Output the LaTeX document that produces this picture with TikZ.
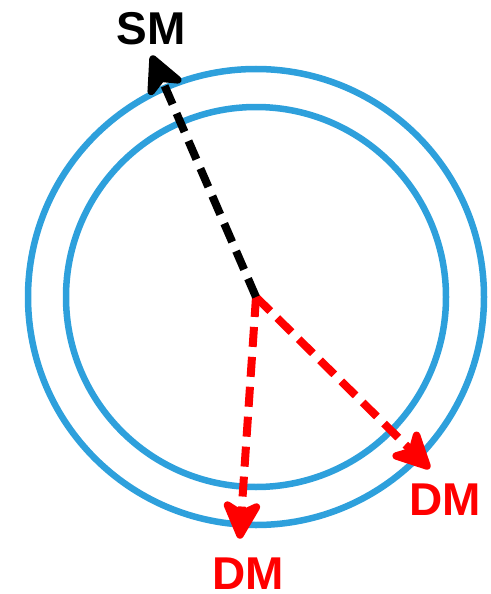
\documentclass[tikz,border=0pt]{standalone}
\usepackage{fontspec}
\setmainfont{Liberation Sans}
\usetikzlibrary{calc}
\definecolor{ringblue}{RGB}{46,160,220}
\newcommand\mkhead[2]{%
  \coordinate (#1B) at ($(#1)!29pt!(c)$);
  \coordinate (#1I) at ($(#1)!21pt!(c)$);
  \coordinate (#1L) at ($(#1B)!14.5pt!90:(#1)$);
  \coordinate (#1R) at ($(#1B)!14.5pt!-90:(#1)$);
  \filldraw[headstyle,draw=#2,fill=#2] (#1) -- (#1L) -- (#1I) -- (#1R) -- cycle;
  \draw[vec,#2] (c) -- (#1I);
}
\begin{document}
\begin{tikzpicture}[x=1pt,y=-1pt,
  ring/.style={draw=ringblue,line width=6.5pt},
  vec/.style={line width=8pt,dash pattern=on 20pt off 10pt},
  headstyle/.style={line width=7.5pt,line join=round,line cap=round},
  lbl/.style={font=\fontsize{46}{46}\selectfont\bfseries,inner sep=0pt}]
\useasboundingbox (0,0) rectangle (490,594);
\coordinate (c) at (256,297);
\draw[ring] (c) circle[radius=228];
\draw[ring] (c) circle[radius=190];
\coordinate (sm) at (153,59);
\coordinate (dma) at (240,535);
\coordinate (dmb) at (427,466);
\mkhead{dma}{red}
\mkhead{dmb}{red}
\mkhead{sm}{black}
\node[lbl,black] (smt) at (151,29) {SM};
\node[lbl,red] (dmat) at (248,574) {DM};
\node[lbl,red] (dmbt) at (445,500) {DM};
\end{tikzpicture}
\end{document}
